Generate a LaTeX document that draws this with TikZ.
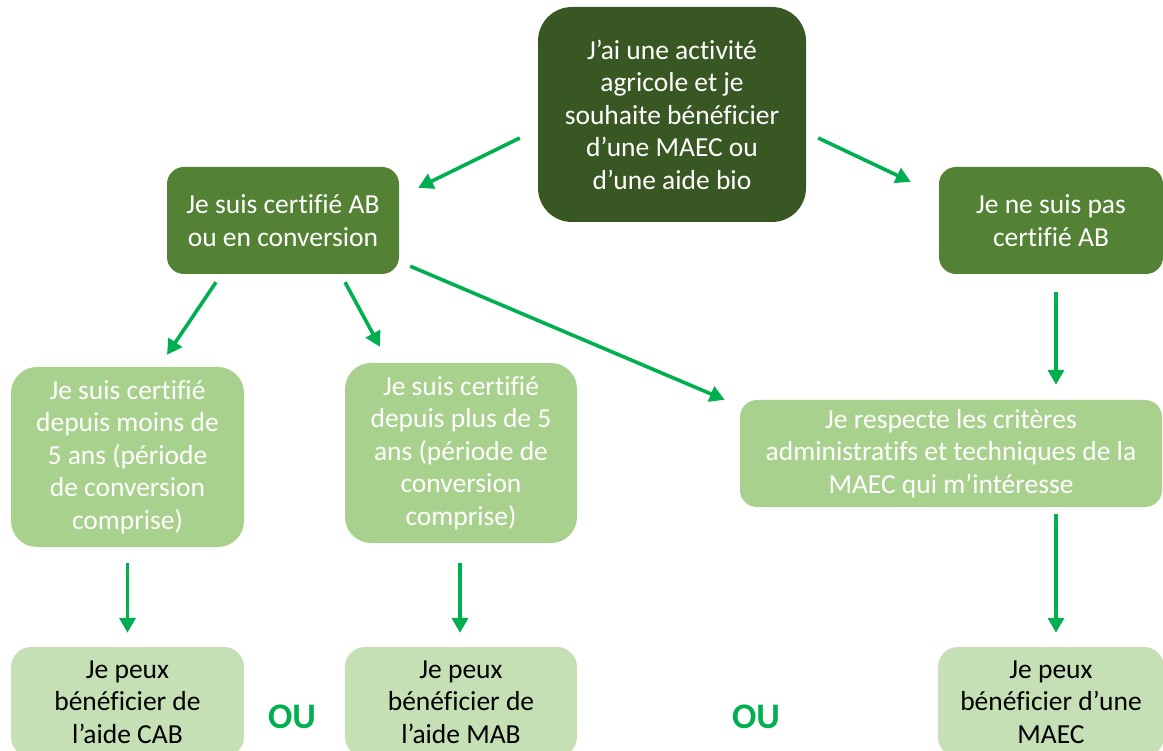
\documentclass[tikz,border=0pt]{standalone}
\usepackage{fontspec}
\setmainfont{Carlito}[Ligatures=NoCommon]
\usetikzlibrary{arrows.meta, calc}
\definecolor{darkgreen}{HTML}{385723}
\definecolor{midgreen}{HTML}{548235}
\definecolor{lightgreen}{HTML}{A9D18E}
\definecolor{palegreen}{HTML}{C5E0B4}
\definecolor{arrowgreen}{HTML}{00B050}

\begin{document}
\begin{tikzpicture}[x=1pt, y=-1pt,
    box/.style={rectangle, rounded corners=#1, align=center, inner sep=0pt,
        font=\fontsize{27.5}{32.5}\selectfont, text=white},
    box/.default=17pt,
    arr/.style={-{Triangle[length=15pt,width=16pt]}, line width=3.6pt, draw=arrowgreen},
    ou/.style={font=\fontsize{36}{40}\selectfont\bfseries, text=arrowgreen}]
\useasboundingbox (0,0) rectangle (1163,751);

% Start
\node[box=34pt, fill=darkgreen, minimum width=268pt, minimum height=215pt] (start) at (672,114.5)
    {J’ai une activité\\agricole et je\\souhaite bénéficier\\d’une MAEC ou\\d’une aide bio};

% Certified or not
\node[box, fill=midgreen, minimum width=232pt, minimum height=107pt] (ab) at (283,220.5)
    {Je suis certifié AB\\ou en conversion};
\node[box, fill=midgreen, minimum width=224pt, minimum height=107pt] (nonab) at (1051,220.5)
    {Je ne suis pas\\certifié AB};

% Conditions
\node[box=26pt, fill=lightgreen, minimum width=233pt, minimum height=180pt] (moins) at (127.5,457)
    {Je suis certifié\\depuis moins de\\5 ans (période\\de conversion\\comprise)};
\node[box=26pt, fill=lightgreen, minimum width=232pt, minimum height=180pt] (plus) at (461,453)
    {Je suis certifié\\depuis plus de 5\\ans (période de\\conversion\\comprise)};
\node[box, fill=lightgreen, minimum width=422pt, minimum height=107pt] (criteres) at (951,453.5)
    {Je respecte les critères\\administratifs et techniques de la\\MAEC qui m’intéresse};

% Results
\node[box=20pt, fill=palegreen, text=black, minimum width=233pt, minimum height=110pt] (cab) at (127.5,702)
    {Je peux\\bénéficier de\\l’aide CAB};
\node[box=20pt, fill=palegreen, text=black, minimum width=232pt, minimum height=110pt] (mab) at (461,702)
    {Je peux\\bénéficier de\\l’aide MAB};
\node[box=20pt, fill=palegreen, text=black, minimum width=226pt, minimum height=110pt] (maec) at (1051,702)
    {Je peux\\bénéficier d’une\\MAEC};

\foreach \xpos/\name in {292/ou1, 756/ou2}
    \node[ou] (\name) at (\xpos,717) {OU};

% Arrows
\draw[arr] ([shift={(-18,23.5)}]start.west) -- ([shift={(19,21)}]ab.north east);
\draw[arr] ([shift={(12,23.5)}]start.east) -- ([shift={(-28,15)}]nonab.north west);
\draw[arr] ([shift={(-67,8)}]ab.south) -- ([shift={(39.5,-12)}]moins.north);
\draw[arr] ([shift={(62,8)}]ab.south) -- ([shift={(-81,-16)}]plus.north);
\draw[arr] ([shift={(11,-8)}]ab.south east) -- ([shift={(-15,0)}]criteres.north west);
\draw[arr] ([shift={(5,18)}]nonab.south) -- ([shift={(105,-15)}]criteres.north);
\draw[arr] ([shift={(0,16)}]moins.south) -- ([shift={(0,-14)}]cab.north);
\draw[arr] ([shift={(-1,20)}]plus.south) -- ([shift={(-1,-14)}]mab.north);
\draw[arr] ([shift={(105,7)}]criteres.south) -- ([shift={(5,-14)}]maec.north);
\end{tikzpicture}
\end{document}
